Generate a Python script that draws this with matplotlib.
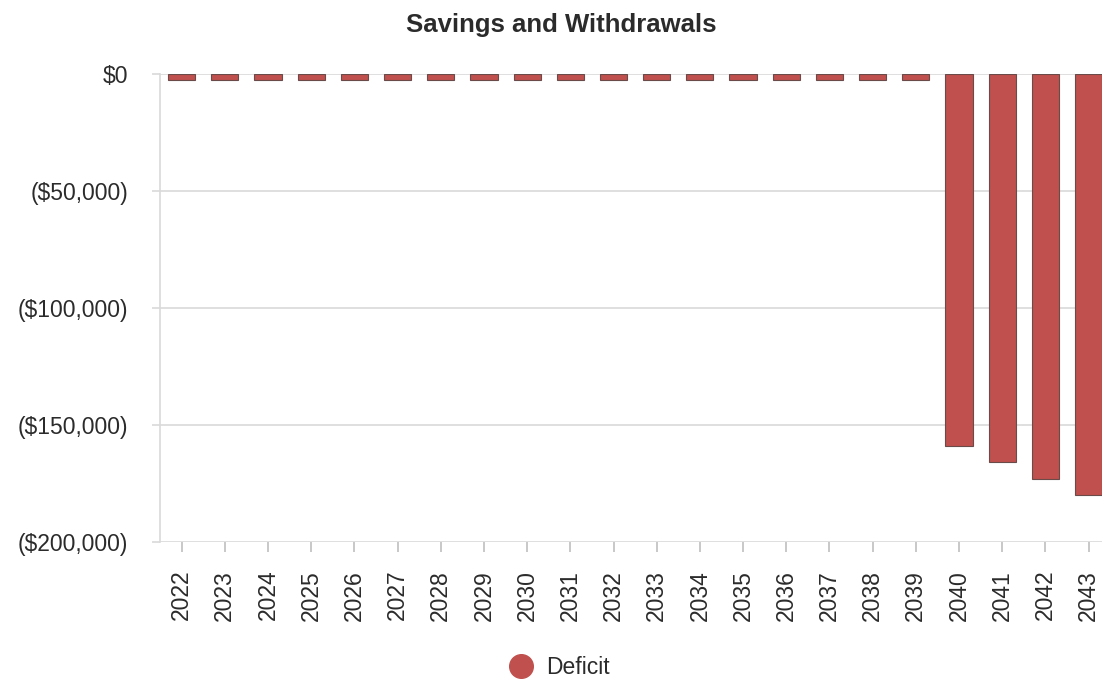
import matplotlib.pyplot as plt
from matplotlib.lines import Line2D
from matplotlib.ticker import FuncFormatter

plt.rcParams['font.family'] = ['Liberation Sans', 'DejaVu Sans']

# data
years = [str(y) for y in range(2022, 2044)]
deficit = [-2500] * 18 + [-159000, -166000, -172900, -179800]

bar_color = "#C0504D"
grid_color = "#D9D9D9"
text_color = "#2B2B2B"

fig = plt.figure(figsize=(11.02, 6.81), dpi=100)
ax = fig.add_axes([160 / 1102, 1 - 542 / 681, 1 - 160 / 1102, (542 - 74) / 681])

x = list(range(len(years)))
ax.bar(x, deficit, width=0.63, color=bar_color, edgecolor="#6B4A4A", linewidth=0.8, zorder=3)

ax.set_ylim(-200000, 0)
ax.set_xlim(-0.5, 21.31)
ax.set_yticks([0, -50000, -100000, -150000, -200000])
ax.yaxis.set_major_formatter(FuncFormatter(
    lambda v, p: "$0" if v == 0 else f"(${abs(v):,.0f})"))
ax.set_xticks(x)
ax.set_xticklabels(years, rotation=90)

ax.grid(axis='y', color=grid_color, linewidth=1.2, zorder=0)
for s in ['top', 'right', 'bottom']:
    ax.spines[s].set_visible(False)
ax.spines['left'].set_color(grid_color)
ax.spines['left'].set_linewidth(1.2)

ax.tick_params(axis='y', colors=grid_color, labelcolor=text_color, length=6,
               width=1.2, pad=17, labelsize=16.5)
ax.tick_params(axis='x', colors="#BFBFBF", labelcolor=text_color, length=7,
               width=1.2, pad=13, labelsize=16.5)

fig.text(0.509, 1 - 25 / 681, "Savings and Withdrawals", ha='center', va='center',
         fontsize=18.5, fontweight='bold', color=text_color)

handle = Line2D([], [], marker='o', linestyle='none', markersize=17,
                markerfacecolor=bar_color, markeredgecolor=bar_color)
fig.legend([handle], ["Deficit"], loc='center', bbox_to_anchor=(0.503, 1 - 668 / 681),
           frameon=False, fontsize=16.5, handletextpad=0.1, labelcolor=text_color)

fig.savefig("out.png", dpi=100)
